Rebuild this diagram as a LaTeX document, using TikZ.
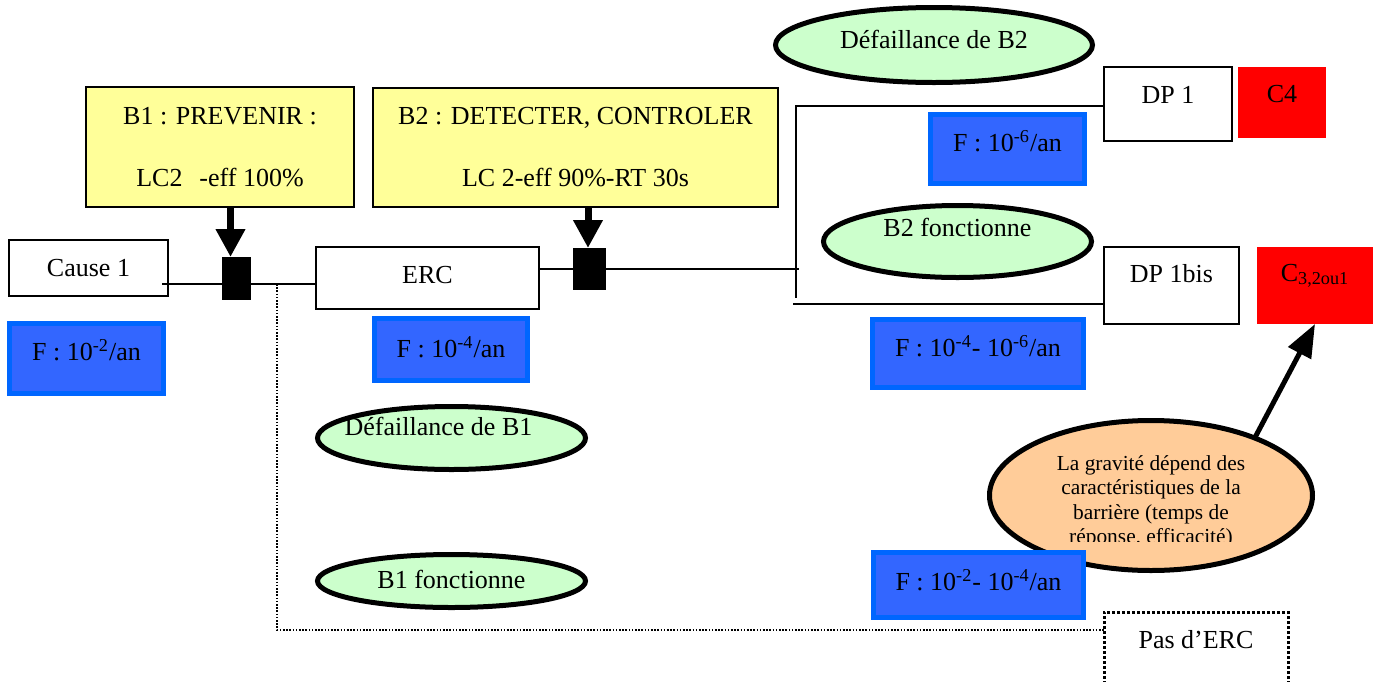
\documentclass[tikz,border=0pt]{standalone}
\usepackage{fontspec}
\setmainfont{Liberation Serif}
\usetikzlibrary{shapes.geometric,arrows.meta,calc}
\definecolor{fblue}{RGB}{51,102,255}
\definecolor{bblue}{RGB}{0,102,255}
\definecolor{yel}{RGB}{255,255,153}
\definecolor{lgreen}{RGB}{204,255,204}
\definecolor{peach}{RGB}{255,204,153}
\begin{document}
\begin{tikzpicture}[x=0.5pt,y=-0.5pt,
  font=\fontsize{13}{15.6}\selectfont,
  every node/.style={inner sep=0pt,outer sep=0pt},
  wbox/.style={rectangle,draw=black,line width=1pt,fill=white},
  fbox/.style={rectangle,draw=bblue,line width=2.5pt,fill=fblue},
  ybox/.style={rectangle,draw=black,line width=1pt,fill=yel,align=center},
  rbox/.style={rectangle,fill=red},
  blk/.style={rectangle,fill=black},
  gell/.style={ellipse,draw=black,line width=2.5pt,fill=lgreen},
  conn/.style={line width=1pt},
  dotline/.style={line width=0.8pt,dash pattern=on 0.8pt off 0.8pt},
  barrow/.style={line width=3.5pt,-{Triangle[width=14pt,length=14pt]}},
  garrow/.style={line width=2.5pt,-{Triangle[width=12.5pt,length=16.5pt]}}]
\path[use as bounding box,clip] (0,0) rectangle (1378,681);
\fill[white] (0,0) rectangle (1378,681);

% green ellipses
\node[gell,minimum width=158.5pt,minimum height=37.5pt,text height=7.5pt,text depth=3.9pt] (db2) at (934,45) {Défaillance de B2};
\node[gell,minimum width=134pt,minimum height=36pt,text height=5pt,text depth=9.8pt] (b2f) at (957.5,241.5) {B2 fonctionne};
\node[gell,minimum width=134pt,minimum height=31.5pt,text height=5pt,text depth=8pt] (db1) at (451.5,438) {\hspace*{-13pt}Défaillance de B1};
\node[gell,minimum width=134pt,minimum height=26.5pt,text height=10pt,text depth=2.3pt] (b1f) at (451.5,581) {B1 fonctionne};

% yellow barrier boxes
\node[ybox,minimum width=134pt,minimum height=60pt] (b1) at (220,147) {B1 : PREVENIR :\\[15.4pt]LC2\hspace{8.5pt}-eff 100\%};
\node[ybox,minimum width=202.5pt,minimum height=59.5pt] (b2) at (575.5,147.5) {B2 : DETECTER, CONTROLER\\[15.4pt]LC 2-eff 90\%-RT 30s};

% white boxes
\node[wbox,minimum width=79.5pt,minimum height=28pt,text height=10pt,text depth=1.5pt] (cause) at (88.5,268) {Cause 1};
\node[wbox,minimum width=111.5pt,minimum height=31pt,text height=10pt,text depth=5pt] (erc) at (427.5,278) {ERC};
\node[wbox,minimum width=64pt,minimum height=37pt,text height=10pt,text depth=11pt] (dp1) at (1168,104) {DP 1};
\node[wbox,minimum width=67.5pt,minimum height=38.5pt,text height=10pt,text depth=13.5pt] (dp1bis) at (1171.5,285.5) {DP 1bis};
\node[rectangle,draw=black,line width=1.5pt,dash pattern=on 1.5pt off 1pt,fill=white,minimum width=92pt,minimum height=54pt,text height=10pt,text depth=28pt] (pas) at (1196,666) {Pas d’ERC};

% red consequence boxes
\node[rbox,minimum width=44pt,minimum height=35.5pt,text height=10pt,text depth=10.5pt] (c4) at (1282,102.5) {C4};
\node[rbox,minimum width=58pt,minimum height=38.5pt,text height=10pt,text depth=14.5pt] (c3) at (1315,285.5) {C\textsubscript{3,2ou1}};

% blue frequency boxes
\node[fbox,minimum width=77pt,minimum height=35pt,text height=10pt,text depth=8.5pt] (f1) at (86.5,358.5) {F : 10\textsuperscript{-2}/an};
\node[fbox,minimum width=76.5pt,minimum height=31pt,text height=10pt,text depth=2.5pt] (f2) at (451,349.5) {F : 10\textsuperscript{-4}/an};
\node[fbox,minimum width=77pt,minimum height=34.5pt,text height=10pt,text depth=8pt] (f3) at (1007.5,149) {F : 10\textsuperscript{-6}/an};
\node[fbox,minimum width=105.5pt,minimum height=34pt,text height=10pt,text depth=7.5pt] (f4) at (978,353.5) {F : 10\textsuperscript{-4}- 10\textsuperscript{-6}/an};

% orange note ellipse (drawn under F5)
\node[ellipse,draw=black,line width=2.5pt,fill=peach,minimum width=161.5pt,minimum height=75pt] (grav) at (1151,495.5) {};
\begin{scope}
\clip (987,418) rectangle (1315,541.5);
\node[font=\fontsize{10.7}{12.25}\selectfont,align=center,anchor=north] (gravtext) at (1151,455.5) {La gravité dépend des\\caractéristiques de la\\barrière (temps de\\réponse, efficacité)};
\end{scope}
\node[fbox,minimum width=105pt,minimum height=32.5pt,text height=10pt,text depth=5pt] (f5) at (978.5,585) {F : 10\textsuperscript{-2}- 10\textsuperscript{-4}/an};

% connectors
\coordinate (j1) at (162,284);
\draw[conn] (j1) -- (erc.west |- j1);
\coordinate (j2) at (799,269);
\draw[conn] (erc.east |- j2) -- (j2);
\coordinate (v1) at (796,106);
\coordinate (v2) at (796,298);
\coordinate (h2) at (793,304);
\draw[conn] (dp1.west |- v1) -- (v1) -- (v2);
\draw[conn] (h2) -- (dp1bis.west |- h2);
\coordinate (d1) at (277,284);
\coordinate (d2) at (277,630);
\draw[dotline] (d1) -- (d2) -- (pas.west |- d2);

% barrier blocks
\node[blk,minimum width=14.5pt,minimum height=21.5pt] (blk1) at (236.5,278.5) {};
\node[blk,minimum width=16.5pt,minimum height=21pt] (blk2) at (589.5,269) {};

% arrows
\coordinate (a1) at ($(blk1.north)+(-6,0)$);
\draw[barrow] (b1.south -| a1) -- (a1);
\coordinate (a2) at ($(blk2.north)+(-1.5,0)$);
\draw[barrow] (b2.south -| a2) -- (a2);
\draw[garrow] (grav.29) -- (c3.south);
\end{tikzpicture}
\end{document}
